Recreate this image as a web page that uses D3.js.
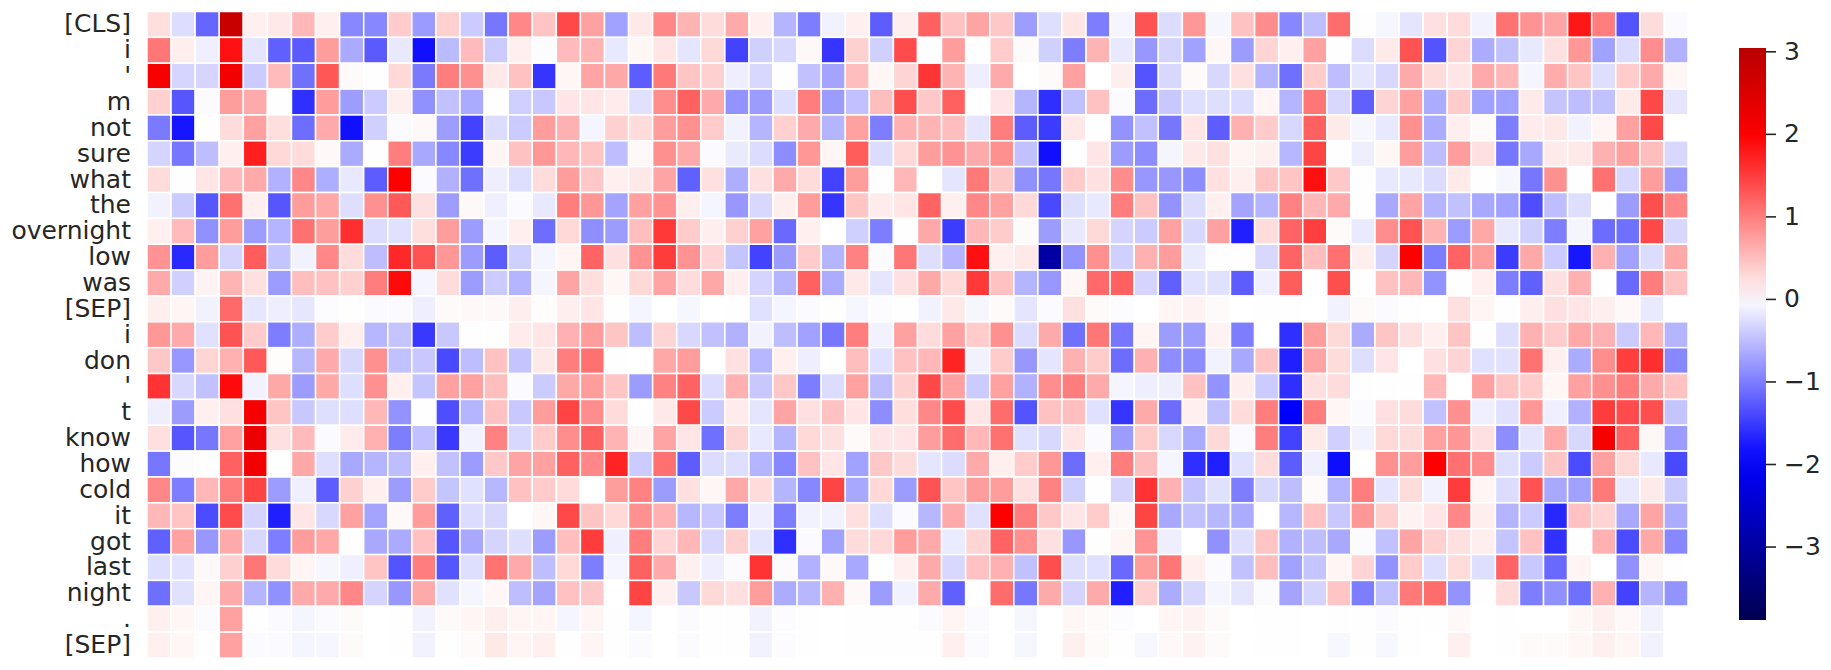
<!DOCTYPE html>
<html>
<head>
<meta charset="utf-8">
<script src="https://cdnjs.cloudflare.com/ajax/libs/d3/7.8.5/d3.min.js"></script>
<style>
html, body { margin: 0; padding: 0; background: #fff; overflow: hidden; }
text { font-family: "DejaVu Sans", sans-serif; fill: #262626; }
</style>
</head>
<body>
<div id="chart"></div>
<script>
"use strict"
// Row labels (top to bottom)
var tokens = ["[CLS]", "i", "'", "m", "not", "sure", "what", "the", "overnight", "low", "was", "[SEP]", "i", "don", "'", "t", "know", "how", "cold", "it", "got", "last", "night", ".", "[SEP]"]

var rowCls = [.25,-.26,-1.18,2.8,.12,.18,.55,.12,-.92,-.92,.4,-.78,.36, -.4,-1.05,.92,.45,1.4,.72,-.72,.18,.92,.58,.27,.65,.12, -.58,-1,-.1,.12,-1.25,.13,1.22,.48,.7,.42,-.75,-.25,.2,-1, -.08,1.32,-.27,.8,-.07,.48,.88,-.92,-.5,1.13,-.01,-.07,-.2, .24,.27,-.1,1.08,.83,.7,1.78,1,-1.32,.27,-.04]
var rowI1 = [1.05,.13,-.12,1.83,-.2,-1.22,-1.27,.76,-.65,-1.27,-.18,-1.84,-.52, .52,-.4,.12,-.02,.52,.58,-.18,.07,.2,-.2,.3,-1.45,-.36, -.3,.05,-1.55,.36,-.36,1.38,-.01,.76,-.01,.4,.04,-.36,-1,.58, -.18,-.8,-.33,-.72,.07,-.76,.33,.12,.72,-.01,-.27,.16,1.32, -1.32,.33,-.64,-.48,-.18,.24,.8,-.72,-.27,.88,-.6]
var rowApos1 = [2.1,-.32,-.32,2.15,-.4,.52,-1.1,1.3,.04,.01,.3,-1.02,1, .85,.18,.48,-1.55,.07,.7,.67,-1.25,1.03,.45,.36,-.13,-.3, -.01,-.48,-.7,.5,.07,.33,1.56,.58,-.13,.65,0,.04,.72,0, .13,-1.32,-.3,.04,-.3,.24,-.58,-1.1,.4,-.5,-.2,-.3,.65, .27,.2,.65,.55,-.08,.64,.45,-.25,.4,.65,.07]
var rowM = [.36,-1.3,-.04,.76,.65,-.01,-1.6,.76,-.75,-.4,.13,-.85,-.48, -.65,-.01,-.36,-.42,.2,.2,.15,-.24,.88,1.22,.65,-.83,-.76, -.25,1,-.76,-.48,.5,1.36,.42,1.22,-.01,.2,-.58,-1.6,-.48,.48, -.04,-1.13,-.42,-.25,-.25,-.27,.08,-.58,1.05,-.3,-1.22,.33,.72, -.64,.4,-.72,-.72,.16,-.45,-.5,-.48,.16,1.4,-.2]
var rowNot = [-1.02,-1.8,0,.27,.72,.25,-1.12,.65,-1.84,-.36,-.04,.05,-.75, -1.45,-.27,-.4,.76,.6,-.08,.36,.27,.76,.85,.4,-.1,-.58, .36,.65,-.58,.72,-1,.6,.58,.5,-.2,1,-1.25,-1.5,.18,-.01, -.83,-.48,-1.05,.2,-1.25,.6,.4,-.3,1.22,.16,-.07,-.18,.85, -.64,.13,.04,-1,.15,.18,-.1,.08,.72,1.4,0]
var rowSure = [-.33,-1.05,-.5,.12,1.72,.3,.27,.05,-.65,-.01,1,-.67,-.92, -1.5,.08,.48,.8,.55,.45,-.5,.05,.85,.65,-.04,-.16,-.27, -.88,.8,.08,1.25,-.27,.3,.76,.83,.65,.85,-.48,-1.84,0,.2, -.76,-.88,-.08,.18,.24,.08,.12,-.55,1.44,-.01,-.13,.07,.76, -.5,.76,.24,-1.05,-.67,.16,.18,.6,.72,.5,-.3]
var rowWhat = [.27,-.01,.2,.52,.65,-.6,.92,-.62,-.18,-1.25,1.96,-.04,-.6, -1.1,-.13,-.25,.27,.76,.42,.12,.18,.7,-1.22,.24,-.62,.24, .65,.27,-1.45,.76,-.01,.55,0,-.2,1.03,.42,-.85,-1.05,.4,.24, .88,-.8,-.8,-.88,.24,.12,.45,.45,1.84,.42,-.01,-.18,-.18, -.27,.16,-.01,-.07,-1.05,.85,-.01,1.1,-.3,.76,-.76]
var rowThe = [-.1,-.4,-1.3,1.1,.12,-1.3,.76,.67,-.25,.85,1.28,.24,-.75, .05,-.12,-.04,-.18,1,.8,-.7,.72,.83,.13,-.08,-.8,-.3, .13,.76,-1.55,.45,.15,.2,1.2,.12,.92,.72,.3,-1.4,-.25,-.18, 1,.48,-.83,-.27,.12,-.7,-.58,.97,.55,.65,-.01,-.67,.7, -.58,-.48,-.67,-.72,-1.36,-.5,-.25,-.01,-.76,1.36,.92]
var rowOvernight = [.12,.52,-.85,.76,-.75,-.58,1.1,.76,1.6,-.27,-.24,.25,.76, -.76,-.08,.12,-1.12,.3,-.87,-.76,.5,1.53,.4,.13,.36,.72, -1.15,.12,0,-.36,-1,-.01,.67,-1.5,.55,.4,.04,-.76,-.18,.3, -.33,-.4,.72,-.3,.72,-1.72,.27,1.2,1.48,.04,-.16,.88,1.32, .58,-.76,.67,-.18,-.36,-1,-.08,-1.13,-1.1,1.4,-.3]
var rowLow = [.83,-1.65,.76,-.33,1.25,-.45,-.1,.92,.27,-.5,1.65,1.32,.8, -.76,-1.25,-.36,-.08,.08,1.2,.24,.83,1.5,.83,.33,-.45,-1.45, -.76,.4,-.58,.97,-.04,1.05,-.25,-.58,1.84,.12,.18,-2.95,-.83,.85, -.36,.6,.76,-.16,-.01,-.01,-.3,1.2,.5,1.1,.13,-.33,1.96, -1,1.2,.76,-1.5,.67,-.4,-1.78,.6,-.72,-.27,.67]
var rowWas = [.65,-.36,.1,.58,.24,-.76,.5,.48,.36,1,1.88,-.08,.27, -.76,-.4,-.58,-.08,.7,.25,.07,.3,.7,.27,.67,.13,-.33, -.58,1.22,-.64,.18,-.2,.24,.67,.3,1.53,.48,-.58,-.8,.07,1.15, 1.22,-.33,-1.22,-.24,-.24,-1.25,-.12,1.25,-.01,1.36,-.01,.48,.55, -.83,-.01,.12,-1,-1.22,.24,.6,-.01,-1.15,1,.48]
var rowSep1 = [.13,.08,-.1,1.15,-.19,-.13,-.19,-.02,-.01,-.04,-.04,-.13,.04, .05,.05,.13,.02,.13,.2,-.01,-.08,0,-.07,0,-.01,-.24, -.08,-.04,-.01,-.07,-.02,.01,-.1,.18,-.07,.04,-.2,-.04,.24,.04, -.02,0,.08,.1,.04,0,-.01,-.01,0,-.1,.04,-.04,-.01, 0,.24,.08,-.01,.13,.24,.2,.13,.05,-.16,0]
var rowI2 = [.8,.65,-.24,1.32,.4,-1,-.62,.4,.12,-.55,-.45,-1.53,-.42, -.01,-.01,.15,.2,.6,.76,.45,-.5,.33,-.3,-.48,-.6,-.1, -.5,-.72,-1.05,1,-.1,.72,.27,.72,.4,.85,-.27,.65,-1.1,1.05, -1.05,.08,-.76,-.76,.1,-1,0,-1.6,.76,.3,-.65,.45,.24, .12,.45,-.01,-.25,.6,.4,.67,.6,-.4,.55,-.58]
var rowDon = [.42,-.8,.33,.6,1.28,.02,-.55,.65,-.3,.85,-.48,-.42,-1.4, -.5,.48,-.45,.18,1,1.1,-.01,0,.67,.76,0,.24,-.55, .12,-.13,0,.5,-.24,.48,.55,1.68,-.1,.4,-.8,-.2,.6,.4, -1.13,.6,-.88,-.88,-.1,-.67,.45,-1.72,.7,.27,-.25,.2,0, .24,.33,-.24,-.24,1.08,.12,-.64,.88,1.48,1.6,-.92]
var rowApos2 = [1.57,-.3,-.48,1.88,-.1,.67,-.76,.67,-.25,.85,.12,-.45,.72, .72,.5,-.04,-.4,.67,.76,.45,-.76,.97,1.2,-.27,.6,-.42, .42,-1,-.27,.72,-.5,.36,1.4,.72,-.4,.72,-.6,.88,1,.65, -.08,-.13,-.13,.48,-.83,.13,-.4,-1.6,.24,.27,-.01,-.01,-.01, .55,0,.72,.45,.4,.07,.72,.85,1,.65,.48]
var rowT = [-.13,-.76,.12,.24,2.1,.45,-.42,-.25,-.25,.55,-.83,-.01,-1.36, -.58,.48,-.42,.76,1.44,.88,.27,0,.18,1.4,-.4,.15,-.2, .7,.24,.48,.2,-.88,.25,.92,1.38,.2,1.13,-1.32,.48,.5,-.24, -1.55,.65,-1.13,.12,-.48,.27,1,-1.96,1,.07,-.04,.24,.27, -.48,.85,-.12,-.24,.8,-.12,-.6,1.5,1.38,1.36,-.45]
var rowKnow = [.24,-1.3,-1.05,.72,2.25,.24,.52,-.04,.15,.6,-1,-.48,-1.53, -.1,.97,-.3,.4,.88,1.22,.58,.08,.7,.2,-1.1,.33,-.18, -.58,.3,.24,.04,.2,.2,.76,1.13,.55,1.1,-.24,-.3,.2,-.04, -.76,.4,-.3,-.65,.3,-.04,1,-1.45,.16,-.36,-.1,.3,.27, .72,.8,.24,-.88,-.2,.65,-.3,2.1,1.22,.07,-.76]
var rowHow = [-1.05,-.02,-.01,1.22,2.15,.01,.67,-.25,-.67,-.58,-.5,.12,-.48, -.76,.42,.7,.72,1.22,.92,1.68,-.4,1.1,-1.25,-.27,-.25,-.58, -.92,.48,.2,-.72,.42,.27,-.2,-.27,.65,.12,.4,.8,-1.13,.12, 1,.5,-.08,-1.6,-1.72,-.24,.27,-1.25,-.12,-1.85,0,.85,.76, 1.96,1.1,.88,-.25,-.4,.45,-1.38,.72,.3,-.18,-1.4]
var rowCold = [.92,-1,.55,1,1.44,-.76,-.12,-1.25,.36,.12,-.76,.4,-.45, -.24,-.55,.48,.4,.27,0,.76,.97,-.76,.24,.07,.67,.27, -.58,-.92,1.44,-.67,.3,-.76,1.32,.45,.76,.76,.24,.97,-.36,-.01, -.33,1.57,.6,-.45,-.24,-1,-.3,-.5,.04,-.58,1,-.2,.27, -.1,1.5,.08,-.27,1.32,-.67,-.72,1.03,-.18,.16,-.4]
var rowIt = [.55,.45,-1.38,1.38,-.33,-1.72,.2,-.3,.72,-.7,.05,.76,-1.22, -.27,-.3,0,.07,1.4,.45,.3,.85,.6,-.55,-.42,-1,-.13, -1,-.1,-.1,.24,-.25,-.04,-.55,.65,-.24,1.96,1,.42,.2,.4, .05,1.44,-.67,-.48,-.55,-.64,0,-.55,.48,-.42,.8,.36,.1, .2,.92,.13,-.58,-.4,-1.66,.48,.33,-.67,.7,-.64]
var rowGot = [-1.22,.72,-.8,.65,-.3,-1,.76,.67,-.01,-.67,-.65,.48,-1.3, -.67,-.33,-.25,-.76,.5,1.5,-.12,1,.33,.55,-.3,.36,-.2, -1.6,-.04,-.72,.27,.3,.76,.65,-.15,.33,1.2,.85,.24,-.8,-.01, .08,.83,-.13,0,-.85,-.25,.45,-.6,-.5,-.67,-.04,-.48,.7, .36,.24,.13,-.45,.48,-1.58,-.01,.6,-1.38,.67,-.92]
var rowLast = [-.25,-.22,.05,.36,1.05,.27,.08,-.07,-.12,.45,-1.32,1,-1.3, -.25,1.08,.65,-.5,.3,-1,-.08,1.22,.65,.12,-.13,-.04,1.57, -.04,-.6,.05,-.67,0,.12,.65,-.3,.48,.6,-.48,1.36,-.25,-.24, -1.15,.76,1.05,.12,-.04,-.48,.5,-.72,-.45,.08,.33,-.83,.4, -.25,.27,-.25,1.2,-.42,-1.15,.08,0,-.85,.07,-.01]
var rowNight = [-1.1,-.24,.08,.65,-.58,-.85,.65,.65,.92,-.33,-.8,.65,-.24, -.08,.07,-.5,-.7,.48,.42,0,1.44,.12,-.42,.3,.24,.76, -.64,-.55,.6,.05,-.76,-.1,.65,-1.22,0,1.13,-1.05,.65,-.33,.65, -1.72,.36,-.64,-.3,-.08,-.2,-.04,-.7,-.33,.45,-1,-.48,1.03, 1.13,-.83,-.01,.27,-1,-.85,-1.1,.6,-1.45,-.58,-.83]
var rowDot = [.12,.07,-.04,.72,-.01,-.04,-.08,-.04,.04,0,-.01,-.1,.04, .08,.13,.08,.08,-.08,.08,-.01,-.08,0,-.04,-.01,-.01,-.1, -.02,-.01,0,-.01,-.01,-.01,-.04,.08,-.04,0,-.07,0,.07,.04, -.02,0,.08,.1,.04,0,-.01,-.01,0,-.01,-.01,-.04,-.01, -.01,.05,0,-.01,0,0,.07,.12,.05,-.1,0]
var rowSep2 = [.12,.07,-.01,.72,-.04,-.04,-.08,-.07,.04,0,-.01,-.1,.01, .04,.18,.08,.12,-.01,.08,-.01,-.04,0,-.04,-.01,-.01,-.1, -.02,-.01,0,-.01,-.01,-.01,-.01,.12,-.04,0,-.07,0,.12,.04, -.01,-.06,.05,.1,.04,0,-.01,-.01,0,-.06,-.01,-.06,-.01, 0,.12,0,-.01,.04,.04,.07,.12,.08,-.1,0]

var rows = [rowCls, rowI1, rowApos1, rowM, rowNot, rowSure, rowWhat, rowThe, rowOvernight, rowLow, rowWas, rowSep1, rowI2, rowDon, rowApos2, rowT, rowKnow, rowHow, rowCold, rowIt, rowGot, rowLast, rowNight, rowDot, rowSep2]

var colorbarTicks = [-3, -2, -1, 0, 1, 2, 3]
var colorbarMin = -3.89
var colorbarMax = 3.04

var width = 1831
var height = 670
var margin = {top: 11.5, right: 143, bottom: 12, left: 147}
var columns = d3.range(rows[0].length)

// seismic colormap, centred on 0 with the half-range set by the larger side
var vrange = 3.92
var color = d3.scaleLinear()
    .domain([-vrange, -vrange / 2, 0, vrange / 2, vrange])
    .range(["#00004d", "#0000ff", "#ffffff", "#ff0000", "#800000"])

var xScale = d3.scaleBand().domain(columns).range([margin.left, width - margin.right])
// rows keyed by index because some tokens repeat
var yScale = d3.scaleBand().domain(d3.range(tokens.length)).range([margin.top, height - margin.bottom])

var svg = d3.select("#chart").append("svg")
    .attr("width", width)
    .attr("height", height)

// Cells
svg.append("g").selectAll("g")
    .data(rows)
    .enter().append("g")
    .attr("transform", function(d, i) {return "translate(0," + yScale(i) + ")"})
    .selectAll("rect")
    .data(function(d) {return d})
    .enter().append("rect")
    .attr("x", function(d, i) {return xScale(i)})
    .attr("width", xScale.bandwidth())
    .attr("height", yScale.bandwidth())
    .attr("fill", function(d) {return color(d)})
    .attr("stroke", "white")
    .attr("stroke-width", 1.5)

// Row labels
var yAxis = d3.axisLeft(yScale)
    .tickSize(0)
    .tickPadding(16)
    .tickFormat(function(i) {return tokens[i]})

var yAxisG = svg.append("g")
    .attr("transform", "translate(" + margin.left + ",0)")
    .call(yAxis)
yAxisG.select(".domain").remove()
yAxisG.selectAll("text")
    .style("font-size", "25px")
    .style("font-family", "'DejaVu Sans'")
    .attr("fill", "#262626")

// Colorbar
var barLeft = 1739
var barWidth = 27
var barScale = d3.scaleLinear().domain([colorbarMin, colorbarMax]).range([620, 48])

var stops = d3.range(0, 1.0001, 0.05)
var gradient = svg.append("defs").append("linearGradient")
    .attr("id", "barGradient")
    .attr("x1", 0).attr("y1", 1)
    .attr("x2", 0).attr("y2", 0)
gradient.selectAll("stop")
    .data(stops)
    .enter().append("stop")
    .attr("offset", function(d) {return d})
    .attr("stop-color", function(d) {return color(colorbarMin + d * (colorbarMax - colorbarMin))})

svg.append("rect")
    .attr("x", barLeft)
    .attr("y", barScale(colorbarMax))
    .attr("width", barWidth)
    .attr("height", barScale(colorbarMin) - barScale(colorbarMax))
    .attr("fill", "url(#barGradient)")

var barAxis = d3.axisRight(barScale)
    .tickValues(colorbarTicks)
    .tickSize(10)
    .tickPadding(8)
    .tickFormat(d3.format("d"))

var barAxisG = svg.append("g")
    .attr("transform", "translate(" + (barLeft + barWidth) + ",0)")
    .call(barAxis)
barAxisG.select(".domain").remove()
barAxisG.selectAll("line")
    .attr("stroke", "#262626")
    .attr("stroke-width", 1.6)
barAxisG.selectAll("text")
    .style("font-size", "25px")
    .style("font-family", "'DejaVu Sans'")
    .attr("fill", "#262626")
</script>
</body>
</html>
